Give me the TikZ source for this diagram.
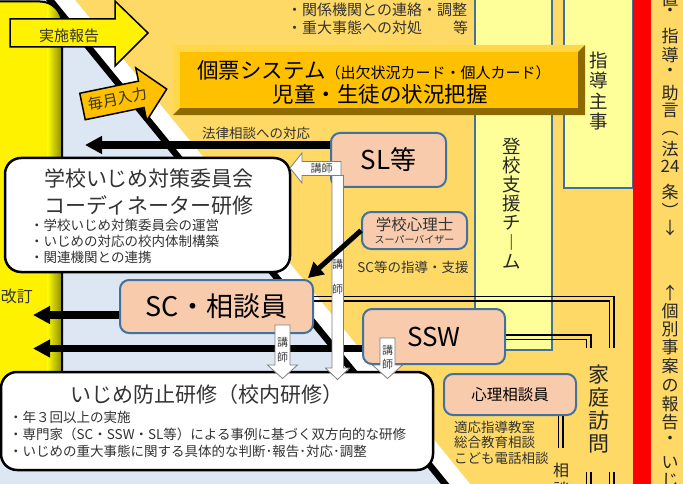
\documentclass[tikz,border=0pt]{standalone}
\usepackage{fontspec}
\setmainfont{Noto Sans CJK JP}
\usepackage{xcolor}
\usetikzlibrary{arrows.meta,calc}

\definecolor{bgorange}{HTML}{FFD966}
\definecolor{bgblue}{HTML}{DDE7F3}
\definecolor{colyellow}{HTML}{FFFF99}
\definecolor{peach}{HTML}{F8CBAD}
\definecolor{peachline}{HTML}{41719C}
\definecolor{gold}{HTML}{FFC000}
\definecolor{goldlight}{HTML}{FFD84A}
\definecolor{golddark}{HTML}{8C6A00}
\definecolor{olivebar}{HTML}{8A8A00}
\definecolor{txt}{HTML}{333333}
\definecolor{lecgray}{HTML}{7F7F7F}

\newcommand{\jfs}[1]{\fontsize{#1}{#1}\selectfont}

\pgfdeclarelayer{bg}
\pgfdeclarelayer{links}
\pgfsetlayers{bg,links,main}

\begin{document}
\begin{tikzpicture}[
        x=1pt, y=-1pt,
        every node/.style={inner sep=0pt, text=txt},
        box/.style={draw=peachline, line width=2pt, fill=peach, rounded corners=9pt, text=black},
        trainbox/.style={draw=black, line width=2.5pt, fill=white, rounded corners=16pt},
        column/.style={draw=peachline, line width=1.5pt, fill=colyellow},
        blkarrow/.style={line width=7.5pt, -{Triangle[length=17pt,width=17pt]}},
        dline/.style={line width=1.3pt},
        lecture/.style={draw=lecgray, line width=0.8pt, fill=white},
        lectext/.style={font=\jfs{11}, text=black!75},
        vchar/.style={font=\jfs{18.5}, text=black!85},
        sidechar/.style={font=\jfs{17}, text=black!85},
        note/.style={font=\jfs{13.5}, anchor=west}
    ]
    \useasboundingbox (0,0) rectangle (683,484);
    \clip (0,0) rectangle (683,484);

    % Background
    \begin{pgfonlayer}{bg}
        \fill[bgorange] (0,0) rectangle (683,484);
        \fill[bgblue] (-5,-5) -- (46,-5) -- (450,490) -- (-5,490) -- cycle;
        \fill[white] (46,-5) -- (71,-5) -- (475,490) -- (450,490) -- cycle;
        \draw[line width=6.5pt] (46,-5) -- (450,490);

        % Columns on the right
        \node[column, minimum width=77pt, minimum height=360pt] (tokou) at (513.5,170) {};
        \node[column, minimum width=69pt, minimum height=198pt] (shidou) at (598.5,89) {};
        \fill[red] (633,-5) rectangle (651,490);

        % Yellow board on the left
        \begin{scope}
            \clip[rounded corners=22pt] (-30,1.5) rectangle (62,452);
            \fill[yellow] (-30,1.5) rectangle (62,452);
            \shade[left color=yellow, right color=olivebar] (47,0) rectangle (62,452);
        \end{scope}
        \draw[line width=2pt, rounded corners=22pt] (-30,1.5) rectangle (62,452);
    \end{pgfonlayer}

    % Top text
    \node[font=\jfs{15}, anchor=west] (duty1) at (287,10) {・関係機関との連絡・調整};
    \node[font=\jfs{15}, anchor=west] (duty2) at (287,28) {\makebox[181pt][l]{・重大事態への対処\hfill 等}};

    % Kohyo system
    \node[fill=gold, minimum width=412pt, minimum height=70pt] (kohyo) at (379,80) {};
    \fill[goldlight] (kohyo.north west) -- (kohyo.north east) -- ++(-7,7) -| ($(kohyo.south west)+(7,-7)$) -- (kohyo.south west) -- cycle;
    \fill[golddark] (kohyo.south east) -- (kohyo.north east) -- ++(-7,7) |- ($(kohyo.south west)+(7,-7)$) -- (kohyo.south west) -- cycle;
    \node[font=\jfs{21.5}, text=black] (kohyo1) at (374,70) {個票システム{\jfs{15}（出欠状況カード・個人カード）}};
    \node[font=\jfs{21.5}, text=black] (kohyo2) at (380,94) {児童・生徒の状況把握};

    % Staff boxes
    \node[box, minimum width=115pt, minimum height=54pt, font=\jfs{26}] (sl) at (388.5,160) {SL等};
    \node[box, minimum width=105pt, minimum height=37pt] (spv) at (414.5,230.5) {};
    \node[font=\jfs{15.5}] (spv1) at (414.5,224.5) {学校心理士};
    \node[font=\jfs{10}] (spv2) at (414.5,239.5) {スーパーバイザー};
    \node[font=\jfs{13.5}] (spvnote) at (413,267) {SC等の指導・支援};
    \node[box, minimum width=193pt, minimum height=53pt, font=\jfs{27}] (sc) at (216.5,306.5) {SC・相談員};
    \node[box, minimum width=142pt, minimum height=55pt, font=\jfs{26}] (ssw) at (434,336.5) {SSW};
    \node[box, minimum width=132pt, minimum height=41pt, font=\jfs{15.5}] (soudan) at (510,394.5) {心理相談員};
    \node[note] (soudan1) at (454,427) {適応指導教室};
    \node[note] (soudan2) at (454,442.5) {総合教育相談};
    \node[note] (soudan3) at (454,458) {こども電話相談};

    % Training boxes
    \node[trainbox, minimum width=285pt, minimum height=114pt] (coord) at (147.5,215) {};
    \node[font=\jfs{21}] (coordt1) at (149,178) {学校いじめ対策委員会};
    \node[font=\jfs{21}] (coordt2) at (149,205) {コーディネーター研修};
    \node[note] (coordb1) at (30,225) {・学校いじめ対策委員会の運営};
    \node[note] (coordb2) at (30,241.5) {・いじめの対応の校内体制構築};
    \node[note] (coordb3) at (30,257) {・関連機関との連携};

    \node[trainbox, minimum width=432pt, minimum height=98pt] (ijime) at (217,421) {};
    \node[font=\jfs{21}] (ijimet) at (207,395) {いじめ防止研修（校内研修）};
    \node[note] (ijimeb1) at (9,417) {・年３回以上の実施};
    \node[note] (ijimeb2) at (9,434) {・専門家（SC・SSW・SL等）による事例に基づく双方向的な研修};
    \node[note] (ijimeb3) at (9,451) {・いじめの重大事態に関する具体的な判断･報告･対応･調整};

    % Labels
    \node[font=\jfs{13.5}] (lawlabel) at (256,133) {法律相談への対応};
    \node[font=\jfs{16}, anchor=east] (kaitei) at (33,296) {改訂};
    \foreach \c [count=\i] in {登,校,支,援,チ,︱,ム}
        \node[vchar] (tou\i) at (512,126.7+19.3*\i) {\c};
    \foreach \c/\y [count=\i] in {指/60,導/80.5,主/101,事/121.5}
        \node[vchar] (shu\i) at (599,\y) {\c};
    \foreach \c/\y [count=\i] in {家/375,庭/398,訪/421,問/444}
        \node[vchar, font=\jfs{21}] (visit\i) at (599,\y) {\c};
    \foreach \c/\y [count=\i] in {相/470,談/489}
        \node[vchar, font=\jfs{16}] (consult\i) at (561,\y) {\c};
    \foreach \c/\y [count=\i] in {置/-1,・/12,指/36.5,導/55,・/72,助/93.5,言/110.5,︵/134,法/149.5,24/166.5,条/192.5,︶/210,↓/228}
        \node[sidechar] (advice\i) at (670,\y) {\c};
    \foreach \c/\y [count=\i] in {↑/293,個/311.5,別/329.5,事/347.5,案/366.5,の/385.5,報/404.5,告/422.5,・/440,い/462.5,じ/480}
        \node[sidechar] (report\i) at (670,\y) {\c};

    % Connectors
    \coordinate (lawend) at (85,145);
    \coordinate (scend) at (33,315);
    \coordinate (sswend) at (33,348.5);
    \coordinate (visitA) at (614,348);
    \coordinate (visitB) at (591,348);
    \begin{pgfonlayer}{links}
        \draw[blkarrow] (sl.west |- lawend) -- (lawend);
        \draw[blkarrow] (sc.west |- scend) -- (scend);
        \draw[blkarrow] (ssw.west |- sswend) -- (sswend);

        % Double lines
        \draw[dline] (sc.east |- 0,296.5) -| (visitA);
        \draw[dline] (sc.east |- 0,301) -| ($(visitA)+(-4.5,0)$);
        \draw[dline] (ssw.east |- 0,335) -| (visitB);
        \draw[dline] (ssw.east |- 0,339.5) -| ($(visitB)+(-4.5,0)$);
        \draw[dline] (586.5,472) -- (586.5,490) (591,472) -- (591,490)
                     (609.5,472) -- (609.5,490) (614,472) -- (614,490);
        \draw[dline] (soudan.south -| 558.5,0) -- (558.5,448);
        \draw[dline] (soudan.south -| 563,0) -- (563,448);
    \end{pgfonlayer}

    % Lecturer arrows
    \draw[lecture] (290,168) -- (302,153) -- (302,161.5) -- (341,161.5) -- (341,175.5) -- (302,175.5) -- (302,183) -- cycle;
    \node[lectext] (lec1) at (321.5,168.5) {講師};
    \draw[lecture] (332,175.5) -- (343.5,175.5) -- (343.5,368) -- (349.5,368) -- (337.5,379.5) -- (325.5,368) -- (332,368) -- cycle;
    \node[lectext] (lec2a) at (337.5,264) {講};
    \node[lectext] (lec2b) at (337.5,289) {師};
    \draw[lecture] (275,325) -- (290,325) -- (290,365) -- (297.5,365) -- (282.5,378.5) -- (267.5,365) -- (275,365) -- cycle;
    \node[lectext] (lec3a) at (282.5,342) {講};
    \node[lectext] (lec3b) at (282.5,357) {師};
    \draw[lecture] (380,338) -- (395,338) -- (395,365) -- (402.5,365) -- (387.5,378.5) -- (372.5,365) -- (380,365) -- cycle;
    \node[lectext] (lec4a) at (387.5,350) {講};
    \node[lectext] (lec4b) at (387.5,364) {師};

    % Supervisor to SC
    \draw[line width=5pt, -{Triangle[length=15pt,width=16pt]}] (spv.west) -- ($(sc.north east)+(-6,-1)$);

    % Report and input arrows
    \draw[line width=1.5pt, fill=yellow] (10,19) -- (115,19) -- (115,1) -- (148,33) -- (115,66) -- (115,47) -- (10,47) -- cycle;
    \node[font=\jfs{15}] (jisshi) at (69,36) {実施報告};
    \begin{scope}[shift={(82.5,106.5)}, rotate=11.7]
        \draw[line width=1.5pt, fill=gold] (0,-13.5) -- (60,-13.5) -- (60,-27) -- (86,0) -- (60,27) -- (60,13.5) -- (0,13.5) -- cycle;
        \node[font=\jfs{15}, transform shape] (maitsuki) at (36,0) {毎月入力};
    \end{scope}
\end{tikzpicture}
\end{document}
